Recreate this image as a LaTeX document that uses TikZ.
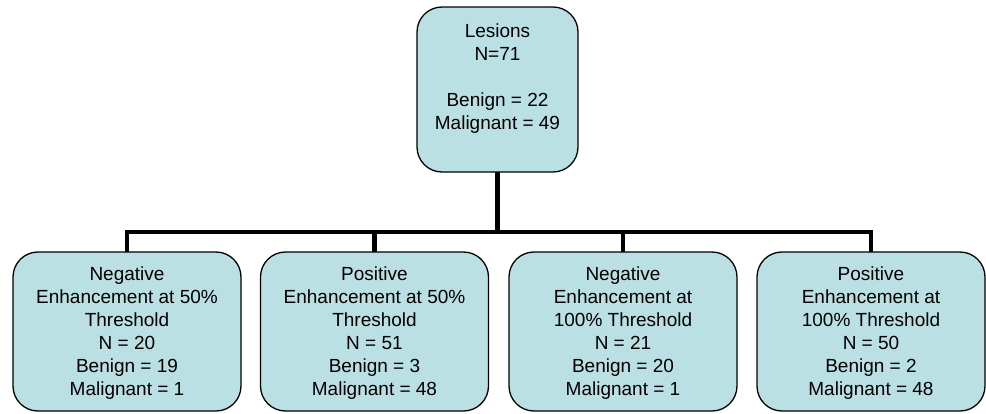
\documentclass[tikz,border=0pt]{standalone}
\usepackage{fontspec}
\setmainfont{Liberation Sans}
\begin{document}
\begin{tikzpicture}[x=1pt,y=-1pt,
  box/.style={draw=black, line width=1.3pt, fill=boxfill, rounded corners=25pt, inner sep=0pt},
  txt/.style={align=center, font=\fontsize{19}{23}\selectfont, inner sep=0pt},
  conn/.style={line width=4.5pt, line cap=rect}]
\definecolor{boxfill}{RGB}{187,224,227}
\useasboundingbox (0,0) rectangle (986,413);
% boxes
\path[box] (417,7) rectangle (578,172);
\node[inner sep=0pt] (top) at (497.5,89.5) {};
\coordinate (topS) at (497.5,172);
\foreach \i/\cx in {1/127,2/374.5,3/623,4/871}{
  \path[box] (\cx-114,252) rectangle (\cx+114,411);
  \coordinate (b\i N) at (\cx,252);
}
% texts
\node[txt] (ttop) at (497.5,79) {Lesions\\N=71\\[23pt]Benign = 22\\Malignant = 49};
\node[txt] (t1) at (127,333) {Negative\\Enhancement at 50\%\\Threshold\\N = 20\\Benign = 19\\Malignant = 1};
\node[txt] (t2) at (374.5,333) {Positive\\Enhancement at 50\%\\Threshold\\N = 51\\Benign = 3\\Malignant = 48};
\node[txt] (t3) at (623,333) {Negative\\Enhancement at\\100\% Threshold\\N = 21\\Benign = 20\\Malignant = 1};
\node[txt] (t4) at (871,333) {Positive\\Enhancement at\\100\% Threshold\\N = 50\\Benign = 2\\Malignant = 48};
% connectors
\coordinate (bar) at (497.5,232);
\draw[conn, line cap=butt] (topS) -- (bar);
\draw[conn, line cap=butt] (b1N) |- (bar) -| (b4N);
\draw[conn, line cap=butt] (b2N) -- (b2N |- bar);
\draw[conn, line cap=butt] (b3N) -- (b3N |- bar);
\end{tikzpicture}
\end{document}
